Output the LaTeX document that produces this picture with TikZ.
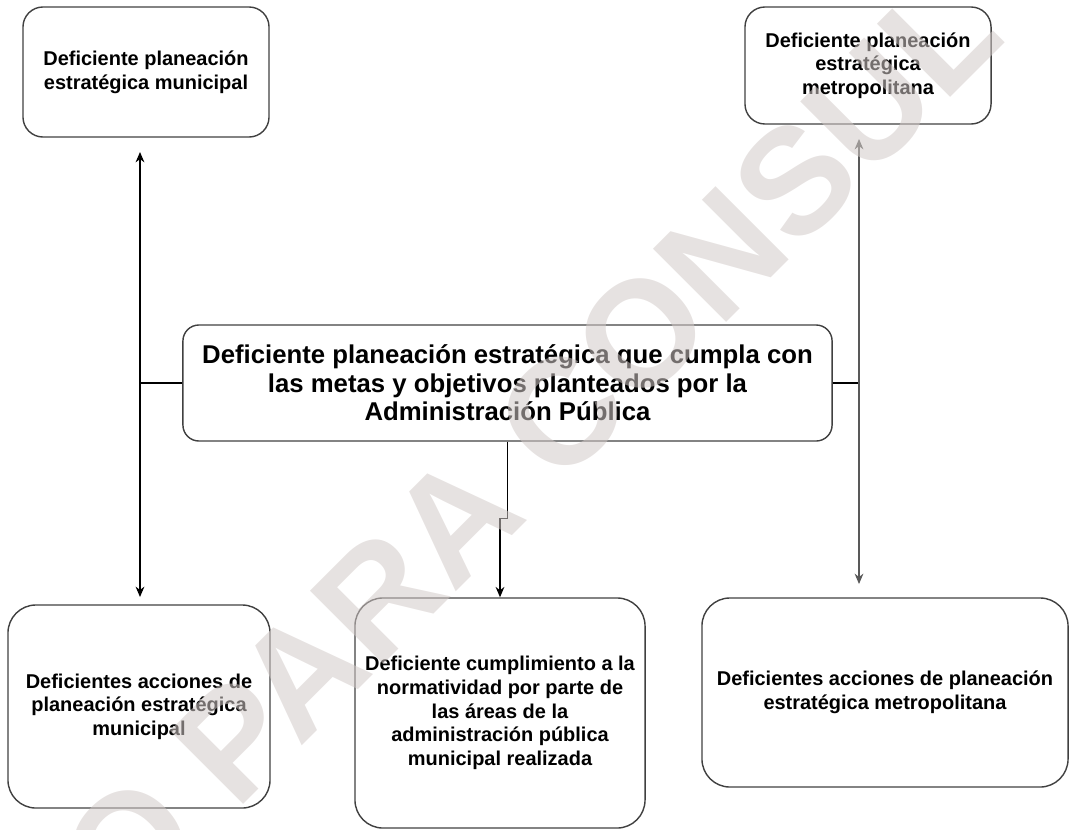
\documentclass[tikz,border=0pt]{standalone}
\usepackage{fontspec}
\setmainfont{Liberation Sans}
\usetikzlibrary{arrows.meta}
\definecolor{marca}{RGB}{210,202,200}
\begin{document}
\begin{tikzpicture}[x=0.025cm,y=-0.025cm,
		caja/.style={draw=black!75,line width=1pt,rounded corners=5mm,align=center,inner sep=0pt,font=\fontsize{14.2}{16.8}\selectfont\bfseries},
		linea/.style={line width=0.8pt},
		flecha/.style={line width=0.8pt,-{Stealth[length=2.6mm,width=2.2mm]}}]
	\useasboundingbox (0,0) rectangle (1069,829);
	% cajas
	\node[caja,minimum width=6.15cm,minimum height=3.25cm] (A) at (146,72) {Deficiente planeación\\estratégica municipal};
	\node[caja,minimum width=6.15cm,minimum height=2.925cm] (B) at (868,65.5) {Deficiente planeación\\estratégica\\metropolitana};
	\node[caja,minimum width=16.225cm,minimum height=2.9cm,rounded corners=4mm,font=\fontsize{18.3}{20.3}\selectfont\bfseries] (C) at (507.5,383) {Deficiente planeación estratégica que cumpla con\\las metas y objetivos planteados por la\\Administración Pública};
	\node[caja,minimum width=6.55cm,minimum height=5.075cm,rounded corners=7mm] (D) at (139,706.5) {Deficientes acciones de\\planeación estratégica\\municipal};
	\node[caja,minimum width=7.25cm,minimum height=5.75cm,rounded corners=7mm] (E) at (500,713) {Deficiente cumplimiento a la\\normatividad por parte de\\las áreas de la\\administración pública\\municipal realizada};
	\node[caja,minimum width=9.15cm,minimum height=4.725cm,rounded corners=7mm] (F) at (885,692.5) {Deficientes acciones de planeación\\estratégica metropolitana};
	% conectores
	\coordinate (izq) at (140,383);
	\coordinate (izqA) at (140,152);
	\coordinate (izqD) at (140,597);
	\coordinate (der) at (859,383);
	\coordinate (derB) at (859,139);
	\coordinate (derF) at (859,584);
	\draw[linea] (C.west) -- (izq);
	\draw[flecha] (izq) -- (izqA);
	\draw[flecha] (izq) -- (izqD);
	\draw[linea] (C.east) -- (der);
	\draw[flecha,black!65] (der) -- (derB);
	\draw[flecha,black!65] (der) -- (derF);
	\draw[flecha] (C.south) -- ++(0,77) -| (E.north);
	% marca de agua
	\begin{scope}
		\clip (0,0) rectangle (1069,829);
		\node[rotate=45,text=marca,opacity=0.55,font=\fontsize{107}{107}\selectfont\bfseries] (agua) at (530,445) {O PARA CONSUL};
	\end{scope}
\end{tikzpicture}
\end{document}
